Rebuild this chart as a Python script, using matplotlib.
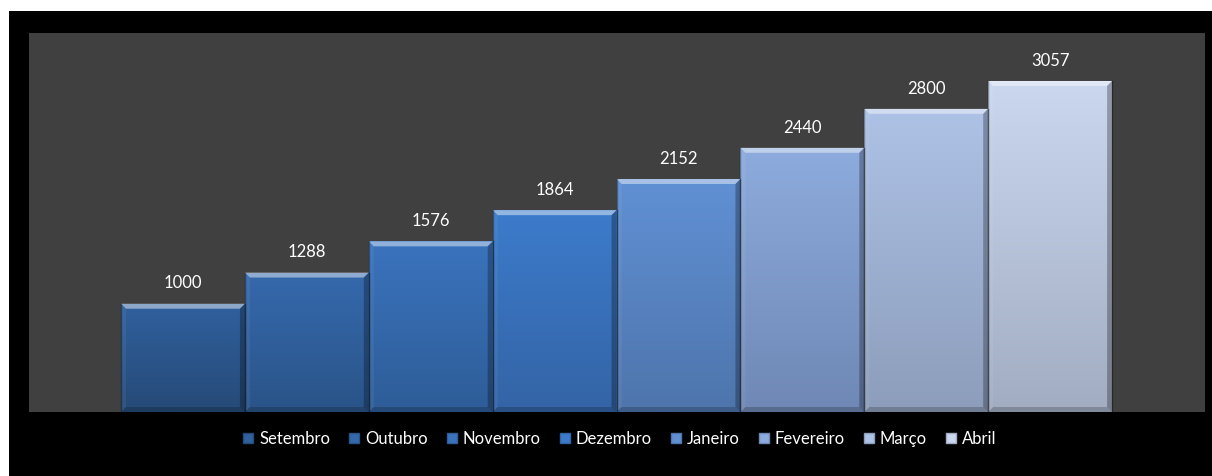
import matplotlib
matplotlib.use("Agg")
import matplotlib.pyplot as plt
import numpy as np
from matplotlib.patches import Rectangle, Polygon, Patch
from matplotlib.colors import to_rgb

months = ["Setembro", "Outubro", "Novembro", "Dezembro", "Janeiro", "Fevereiro", "Março", "Abril"]
values = [1000, 1288, 1576, 1864, 2152, 2440, 2800, 3057]
top_colors = ["#30609d", "#3569ad", "#3a73bd", "#3c7bcb", "#6090d4", "#8dabdd", "#adc2e6", "#cad7ef"]
bottom_colors = ["#264a78", "#2a5488", "#2e5d98", "#3464a6", "#4e75ac", "#6f88b5", "#8d9dbb", "#a2adc2"]

W, H = 1212, 476
fig = plt.figure(figsize=(W / 100, H / 100), dpi=100, facecolor="white")
fig.patches.append(Rectangle((9 / W, 0), 1 - 9 / W, (H - 11) / H, transform=fig.transFigure,
                             facecolor="black", edgecolor="none", zorder=-10))
ax_l, ax_r, ax_t, ax_b = 29, 1205, 33, 412
ax = fig.add_axes([ax_l / W, (H - ax_b) / H, (ax_r - ax_l) / W, (ax_b - ax_t) / H])
ax.set_zorder(1)
ax.set_facecolor("#404040")
for s in ax.spines.values():
    s.set_visible(False)
ax.set_xticks([])
ax.set_yticks([])
xmin, xmax = -1.243, 8.25
ymin, ymax = 0, 3500
ax.set_xlim(xmin, xmax)
ax.set_ylim(ymin, ymax)

pxx = (ax_r - ax_l) / (xmax - xmin)
pxy = (ax_b - ax_t) / (ymax - ymin)
bx = 5 / pxx
by = 5 / pxy

x = np.arange(len(values))
bars = ax.bar(x, values, width=1.0, color="none", edgecolor="none", zorder=2)
for i, (b, v) in enumerate(zip(bars, values)):
    x0, x1 = i - 0.5, i + 0.5
    c_top = np.array(to_rgb(top_colors[i]))
    c_bot = np.array(to_rgb(bottom_colors[i]))
    t = np.linspace(0, 1, 64)[:, None]
    grad = (c_bot[None, :] * (1 - t) + c_top[None, :] * t)[:, None, :]
    im = ax.imshow(grad, extent=[x0, x1, 0, v], origin="lower", aspect="auto",
                   interpolation="bilinear", zorder=2)
    im.set_clip_path(b)
    # bevels
    ax.add_patch(Polygon([(x0, v), (x1, v), (x1 - bx, v - by), (x0 + bx, v - by)],
                         closed=True, facecolor="white", alpha=0.45, edgecolor="none", zorder=3))
    ax.add_patch(Polygon([(x0, 0), (x0, v), (x0 + bx, v - by), (x0 + bx, by)],
                         closed=True, facecolor="white", alpha=0.06, edgecolor="none", zorder=3))
    ax.add_patch(Polygon([(x1, 0), (x1, v), (x1 - bx, v - by), (x1 - bx, by)],
                         closed=True, facecolor="black", alpha=0.28, edgecolor="none", zorder=3))
    ax.add_patch(Polygon([(x0, 0), (x1, 0), (x1 - bx, by), (x0 + bx, by)],
                         closed=True, facecolor="black", alpha=0.2, edgecolor="none", zorder=3))
    ax.plot([x0, x0], [0, v], color="black", alpha=0.35, lw=1, zorder=4)
    ax.plot([x1, x1], [0, v], color="black", alpha=0.35, lw=1, zorder=4)
    ax.annotate(str(v), (i, v), xytext=(0, 11), textcoords="offset points",
                ha="center", va="baseline", color="white", fontsize=12, family="Lato")

handles = [Patch(facecolor=top_colors[i], edgecolor=bottom_colors[i], label=m) for i, m in enumerate(months)]
leg = fig.legend(handles=handles, loc="center", bbox_to_anchor=(620 / W, (H - 439) / H), ncol=8,
                 frameon=False, handlelength=0.6, handleheight=0.6, handletextpad=0.35,
                 columnspacing=1.15, prop={"family": "Lato", "size": 12})
for txt in leg.get_texts():
    txt.set_color("white")

fig.savefig("out.png", dpi=100, facecolor=fig.get_facecolor())
